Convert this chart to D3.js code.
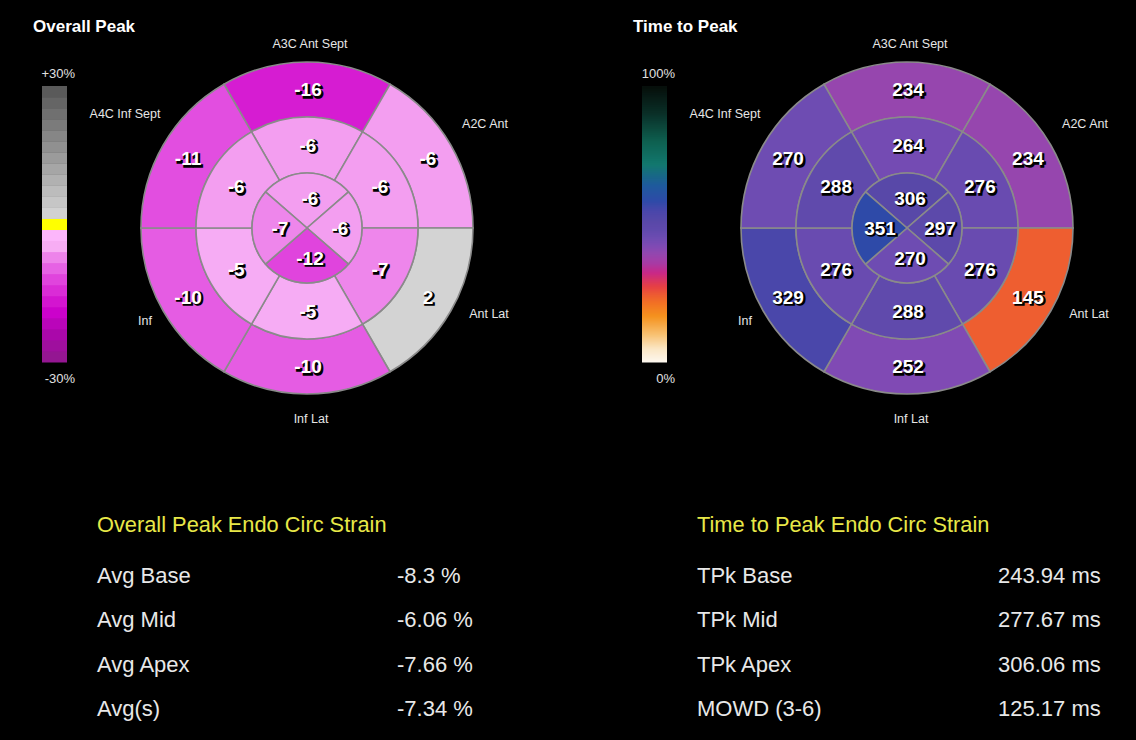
<!DOCTYPE html>
<html>
<head>
<meta charset="utf-8">
<script src="https://cdn.jsdelivr.net/npm/d3@7"></script>
<style>
body { margin: 0; background: #000; }
svg { display: block; font-family: "Liberation Sans", Arial, sans-serif; }
</style>
</head>
<body>
<div class="canvas"></div>
<script>
// segment names, clockwise starting at the top
const segmentNames = ['A3C Ant Sept', 'A2C Ant', 'Ant Lat', 'Inf Lat', 'Inf', 'A4C Inf Sept'];

// overall peak endo circ strain (%)
const strainBase = [-16, -6, 2, -10, -10, -11];
const strainMid = [-6, -6, -7, -5, -5, -6];
const strainApex = [-6, -6, -12, -7]; // top, right, bottom, left

// time to peak (ms)
const tpkBase = [234, 234, 145, 252, 329, 270];
const tpkMid = [264, 276, 276, 288, 276, 288];
const tpkApex = [306, 297, 270, 351];

// summary tables
const strainStatLabels = ['Avg Base', 'Avg Mid', 'Avg Apex', 'Avg(s)'];
const strainStatValues = [-8.3, -6.06, -7.66, -7.34];
const tpkStatLabels = ['TPk Base', 'TPk Mid', 'TPk Apex', 'MOWD (3-6)'];
const tpkStatValues = [243.94, 277.67, 306.06, 125.17];

// colour bar ranges and tick labels
const strainRange = [-30, 30];
const strainTicks = ['-30%', '+30%'];
const tpkRange = [0, 600];
const tpkTicks = ['0%', '100%'];

const dims = {width: 1136, height: 740};
const rings = {apex: 55, mid: 111, base: 166};

const svg = d3.select('.canvas')
    .append('svg')
    .attr('width', dims.width)
    .attr('height', dims.height);

svg.append('rect').attr('width', dims.width).attr('height', dims.height).attr('fill', '#000');

//colour scales
const strainNeg = d3.scaleLinear()
    .domain([-30, -24, -19, -16, -11, -7, -5.5, -1.2])
    .range(['#8e1a8c', '#aa08aa', '#cc02cc', '#d61cd2', '#e24ee0', '#ee86eb', '#f5aaf2', '#ffbaff'])
    .clamp(true);
const strainPos = d3.scaleLinear()
    .domain([1.2, 2, 30])
    .range(['#d8d8d8', '#d3d3d3', '#555555'])
    .clamp(true);
const strainColour = v => Math.abs(v) < 1.2 ? '#ffff00' : (v < 0 ? strainNeg(v) : strainPos(v));

const tpkColour = d3.scaleLinear()
    .domain([0, 30, 60, 100, 130, 145, 165, 195, 215, 234, 252, 270, 288, 306, 329, 351, 385, 430, 480, 540, 600])
    .range(['#fdf8f0', '#fbe6c4', '#f8c274', '#f5921e', '#f27024', '#ee5e30', '#e64044', '#c82888',
            '#a83aa4', '#9646ae', '#804ab4', '#6e4cb2', '#604aac', '#5848a8', '#4a47aa', '#2e4aa8',
            '#1e5a9c', '#12786e', '#0e6050', '#0a3028', '#060e0a'])
    .clamp(true);

// label positions of the segment names, relative to the bullseye centre
const nameOffsets = [[3, -184], [178, -104], [182, 86], [4, 191], [-162, 93], [-182, -114]];

const arcPath = d3.arc();

// builds ring segments, spans are optional (radians)
const ringSegments = (values, inner, outer, offset, spans) => {
    const sizes = spans || values.map(() => 2 * Math.PI / values.length);
    let a = offset;
    return values.map((v, i) => {
        const seg = {
            value: v,
            innerRadius: inner,
            outerRadius: outer,
            startAngle: a,
            endAngle: a + sizes[i]
        };
        a += sizes[i];
        return seg;
    });
};

// apex quadrants: top and bottom a bit wider than the sides
const apexWide = 98 * Math.PI / 180;
const apexNarrow = Math.PI - apexWide;

const drawPanel = (cfg) => {
    const panel = svg.append('g');

    panel.append('text')
        .attr('x', cfg.x + 33).attr('y', 32)
        .attr('fill', '#fff')
        .attr('font-size', 17).attr('font-weight', 'bold')
        .text(cfg.title);

    //colour bar
    const bar = {x: cfg.x + 42, w: 25, top: 86, bottom: 362};
    const barY = d3.scaleLinear().domain(cfg.range).range([bar.bottom, bar.top]);
    const step = (cfg.range[1] - cfg.range[0]) / cfg.bands;
    const bands = d3.range(cfg.bands).map(i => cfg.range[0] + (i + 0.5) * step);

    panel.append('g').selectAll('rect')
        .data(bands)
        .enter().append('rect')
            .attr('x', bar.x)
            .attr('y', d => barY(d + step / 2))
            .attr('width', bar.w)
            .attr('height', d => barY(d - step / 2) - barY(d + step / 2) + 0.5)
            .attr('fill', d => cfg.colour(d));

    panel.append('g').selectAll('text')
        .data(cfg.ticks)
        .enter().append('text')
            .attr('x', bar.x + bar.w + 8)
            .attr('y', (d, i) => i === 0 ? bar.bottom + 21 : bar.top - 8)
            .attr('text-anchor', 'end')
            .attr('fill', '#e0e0e0')
            .attr('font-size', 13)
            .text(d => d);

    //bullseye
    const graph = panel.append('g')
        .attr('transform', `translate(${cfg.x + 307}, 228)`);

    const segs = [
        ...ringSegments(cfg.base, rings.mid, rings.base, -Math.PI / 6),
        ...ringSegments(cfg.mid, rings.apex, rings.mid, -Math.PI / 6),
        ...ringSegments(cfg.apex, 0, rings.apex, -apexWide / 2, [apexWide, apexNarrow, apexWide, apexNarrow])
    ];

    graph.selectAll('path')
        .data(segs)
        .enter().append('path')
            .attr('d', arcPath)
            .attr('fill', d => cfg.colour(d.value))
            .attr('stroke', '#8a8a8a')
            .attr('stroke-width', 1.6);

    const labelPos = d => {
        const r = d.innerRadius === 0 ? 30 : (d.innerRadius + d.outerRadius) / 2;
        const a = (d.startAngle + d.endAngle) / 2;
        return [r * Math.sin(a) + (d.innerRadius === 0 ? 3 : 1), -r * Math.cos(a)];
    };

    // shadow then text
    [['#000', 1.6], ['#fff', 0]].forEach(([fill, off]) => {
        graph.append('g').selectAll('text')
            .data(segs)
            .enter().append('text')
                .attr('x', d => labelPos(d)[0] + off)
                .attr('y', d => labelPos(d)[1] + off)
                .attr('text-anchor', 'middle')
                .attr('dominant-baseline', 'central')
                .attr('font-size', 19)
                .attr('font-weight', 'bold')
                .attr('fill', fill)
                .attr('stroke', off ? '#000' : 'none')
                .attr('stroke-width', 1.5)
                .text(d => d.value);
    });

    graph.append('g').selectAll('text')
        .data(segmentNames)
        .enter().append('text')
            .attr('x', (d, i) => nameOffsets[i][0])
            .attr('y', (d, i) => nameOffsets[i][1])
            .attr('text-anchor', 'middle')
            .attr('dominant-baseline', 'central')
            .attr('fill', '#e6e6e6')
            .attr('font-size', 12.5)
            .text(d => d);

    //summary table
    const table = panel.append('g')
        .attr('transform', `translate(${cfg.x + 97}, 0)`);

    table.append('text')
        .attr('y', 532)
        .attr('fill', '#e8e848')
        .attr('font-size', 21.8)
        .text(cfg.tableTitle);

    const rows = table.selectAll('g.row')
        .data(cfg.statLabels)
        .enter().append('g')
            .attr('class', 'row')
            .attr('transform', (d, i) => `translate(0, ${583 + i * 44.3})`);

    rows.append('text')
        .attr('fill', '#e8e8e8')
        .attr('font-size', 22)
        .text(d => d);

    rows.append('text')
        .attr('x', cfg.valueX)
        .attr('fill', '#e8e8e8')
        .attr('font-size', 22)
        .text((d, i) => cfg.statValues[i] + cfg.unit);
};

drawPanel({
    x: 0,
    title: 'Overall Peak',
    range: strainRange,
    ticks: strainTicks,
    bands: 25,
    colour: strainColour,
    base: strainBase, mid: strainMid, apex: strainApex,
    tableTitle: 'Overall Peak Endo Circ Strain',
    statLabels: strainStatLabels,
    statValues: strainStatValues,
    unit: ' %',
    valueX: 300
});

drawPanel({
    x: 600,
    title: 'Time to Peak',
    range: tpkRange,
    ticks: tpkTicks,
    bands: 138,
    colour: tpkColour,
    base: tpkBase, mid: tpkMid, apex: tpkApex,
    tableTitle: 'Time to Peak Endo Circ Strain',
    statLabels: tpkStatLabels,
    statValues: tpkStatValues,
    unit: ' ms',
    valueX: 301
});
</script>
</body>
</html>
